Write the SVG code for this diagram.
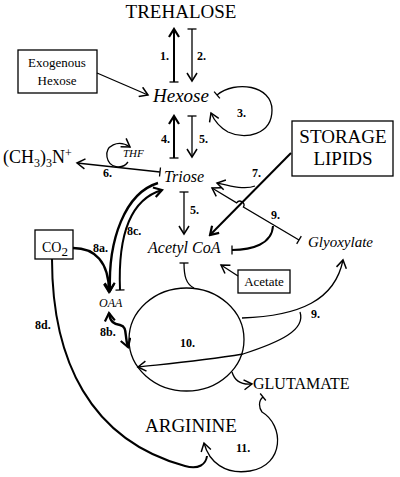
<svg xmlns="http://www.w3.org/2000/svg" width="400" height="477" viewBox="0 0 400 477">
<style>
text{font-family:"Liberation Serif","Times New Roman",serif;fill:#000}
.lbl{font-size:12px;font-weight:bold}
.it{font-style:italic}
.ln{fill:none;stroke:#000;stroke-width:1.3}
.th{fill:none;stroke:#000;stroke-width:2}
.tk{fill:none;stroke:#000;stroke-width:2.4}
.box{fill:#fff;stroke:#000;stroke-width:1.3}
</style>
<defs>
<marker id="a" viewBox="-10 -6 12 12" refX="0" refY="0" markerWidth="12" markerHeight="12" markerUnits="userSpaceOnUse" orient="auto"><path d="M-8,-5 L0,0 L-8,5" fill="none" stroke="#000" stroke-width="1.5"/></marker>
<marker id="ak" viewBox="-10 -6 12 12" refX="0" refY="0" markerWidth="12" markerHeight="12" markerUnits="userSpaceOnUse" orient="auto"><path d="M-8,-5 L0,0 L-8,5" fill="none" stroke="#000" stroke-width="2.2"/></marker>
<marker id="aks" viewBox="-10 -6 12 12" refX="0" refY="0" markerWidth="12" markerHeight="12" markerUnits="userSpaceOnUse" orient="auto-start-reverse"><path d="M-8,-5 L0,0 L-8,5" fill="none" stroke="#000" stroke-width="2.2"/></marker>
<marker id="b" viewBox="-2 -6 4 12" refX="0" refY="0" markerWidth="4" markerHeight="12" markerUnits="userSpaceOnUse" orient="auto"><path d="M0,-4.5 L0,4.5" fill="none" stroke="#000" stroke-width="1.3"/></marker>
</defs>

<g id="trehalose"><text x="181" y="18" font-size="19" text-anchor="middle">TREHALOSE</text></g>
<g id="exogenous-hexose"><rect class="box" x="18" y="50" width="79" height="43"/><text x="57" y="67" font-size="13" text-anchor="middle">Exogenous</text><text x="57" y="85" font-size="13" text-anchor="middle">Hexose</text></g>
<g id="hexose"><text class="it" x="153" y="102" font-size="19">Hexose</text></g>
<g id="ch3n"><text x="3" y="163" font-size="18">(CH<tspan font-size="12" dy="4">3</tspan><tspan dy="-4">)</tspan><tspan font-size="12" dy="4">3</tspan><tspan dy="-4">N</tspan><tspan font-size="12" dy="-6">+</tspan></text></g>
<g id="thf"><text class="it" x="123" y="157" font-size="11">THF</text></g>
<g id="triose"><text class="it" x="164" y="182" font-size="16">Triose</text></g>
<g id="storage-lipids"><rect class="box" x="292" y="121" width="101" height="55" stroke-width="1.5"/><text x="343" y="143" font-size="19" text-anchor="middle">STORAGE</text><text x="343" y="165" font-size="19" text-anchor="middle">LIPIDS</text></g>
<g id="co2"><rect class="box" x="35" y="230" width="38" height="29"/><text x="42" y="252" font-size="14">CO<tspan font-size="13" dy="4">2</tspan></text></g>
<g id="acetyl-coa"><text class="it" x="148" y="253" font-size="16">Acetyl CoA</text></g>
<g id="glyoxylate"><text class="it" x="308" y="247" font-size="15">Glyoxylate</text></g>
<g id="acetate"><rect class="box" x="238" y="270" width="52" height="23"/><text x="264" y="286" font-size="13" text-anchor="middle">Acetate</text></g>
<g id="oaa"><text class="it" x="99" y="307" font-size="12">OAA</text></g>
<g id="tca"><ellipse class="ln" cx="186.5" cy="339.5" rx="57.5" ry="51.5"/><text class="lbl" x="180" y="347">10.</text></g>
<g id="glutamate"><text x="253" y="389" font-size="16">GLUTAMATE</text></g>
<g id="arginine"><text x="145" y="432" font-size="19">ARGININE</text></g>

<g id="connectors">
<path class="th" d="M174,82 L174,29" marker-start="url(#b)" marker-end="url(#ak)"/>
<path class="ln" d="M192,29 L192,81" marker-start="url(#b)" marker-end="url(#a)"/>
<path class="ln" d="M97,73 L148,95" marker-end="url(#a)"/>
<path class="ln" d="M217,95 C235,80 272,85 272,110 C272,135 245,140 228,132 C219,127 214,120 211,113" marker-start="url(#b)" marker-end="url(#a)"/>
<path class="th" d="M174,158 L174,116" marker-start="url(#b)" marker-end="url(#ak)"/>
<path class="ln" d="M192,116 L192,157" marker-start="url(#b)" marker-end="url(#a)"/>
<path class="ln" d="M160,172 L77,163" marker-start="url(#b)" marker-end="url(#a)"/>
<path class="ln" d="M128,162 C122,170 109,168 107,157 C105,146 118,139 130,147" marker-end="url(#a)"/>
<path class="ln" d="M184,192 L184,234" marker-start="url(#b)" marker-end="url(#a)"/>
<path class="th" d="M291,153 L210,235" marker-end="url(#ak)"/>
<path class="ln" d="M255,186 C245,190 230,186 217,183" marker-end="url(#a)"/>
<path class="ln" d="M299,240 L243.4,207.1 A4,4 0 0 0 236.6,202.9 L212,188" marker-start="url(#b)" marker-end="url(#a)"/>
<path class="th" d="M273,226 C272,244 252,250 232,250" marker-end="url(#b)"/>
<path class="ln" d="M238,276 L221,265" marker-end="url(#a)"/>
<path class="ln" d="M184,263 C184,276 186,284 194,288" marker-start="url(#b)"/>
<path class="tk" d="M73,248 C95,248 109,262 109,292" marker-end="url(#ak)"/>
<path class="tk" d="M158,183 C125,193 108,240 110,291" marker-end="url(#ak)"/>
<path class="th" d="M120,290 C118,240 128,200 162,190" marker-start="url(#b)" marker-end="url(#ak)"/>
<path class="tk" d="M109,313 C110,322 114,324 120,325 C128,327 124,335 128,347" marker-start="url(#aks)" marker-end="url(#ak)"/>
<path class="ln" d="M242,318 C300,316 335,300 343,260" marker-end="url(#a)"/>
<path class="ln" d="M300,312 C306,330 280,342 243,354 C200,361 165,364 138,367" marker-end="url(#a)"/>
<path class="ln" d="M232,372 C235,382 242,385 252,384" marker-end="url(#a)"/>
<path class="ln" d="M263,397 C258,401 259,408 262,412 C284,425 285,465 250,471 C225,475 209,462 204,443" marker-start="url(#b)" marker-end="url(#a)"/>
<path class="th" d="M52,259 C52,360 90,440 185,466 C199,470 206,464 207,456"/>
</g>

<g id="labels">
<text class="lbl" x="160" y="60">1.</text>
<text class="lbl" x="197" y="60">2.</text>
<text class="lbl" x="237" y="117">3.</text>
<text class="lbl" x="161" y="143">4.</text>
<text class="lbl" x="199" y="143">5.</text>
<text class="lbl" x="103" y="177">6.</text>
<text class="lbl" x="190" y="214">5.</text>
<text class="lbl" x="252" y="177">7.</text>
<text class="lbl" x="271" y="219">9.</text>
<text class="lbl" x="93" y="252">8a.</text>
<text class="lbl" x="127" y="235">8c.</text>
<text class="lbl" x="100" y="336">8b.</text>
<text class="lbl" x="35" y="329">8d.</text>
<text class="lbl" x="311" y="318">9.</text>
<text class="lbl" x="236" y="452">11.</text>
</g>
</svg>
